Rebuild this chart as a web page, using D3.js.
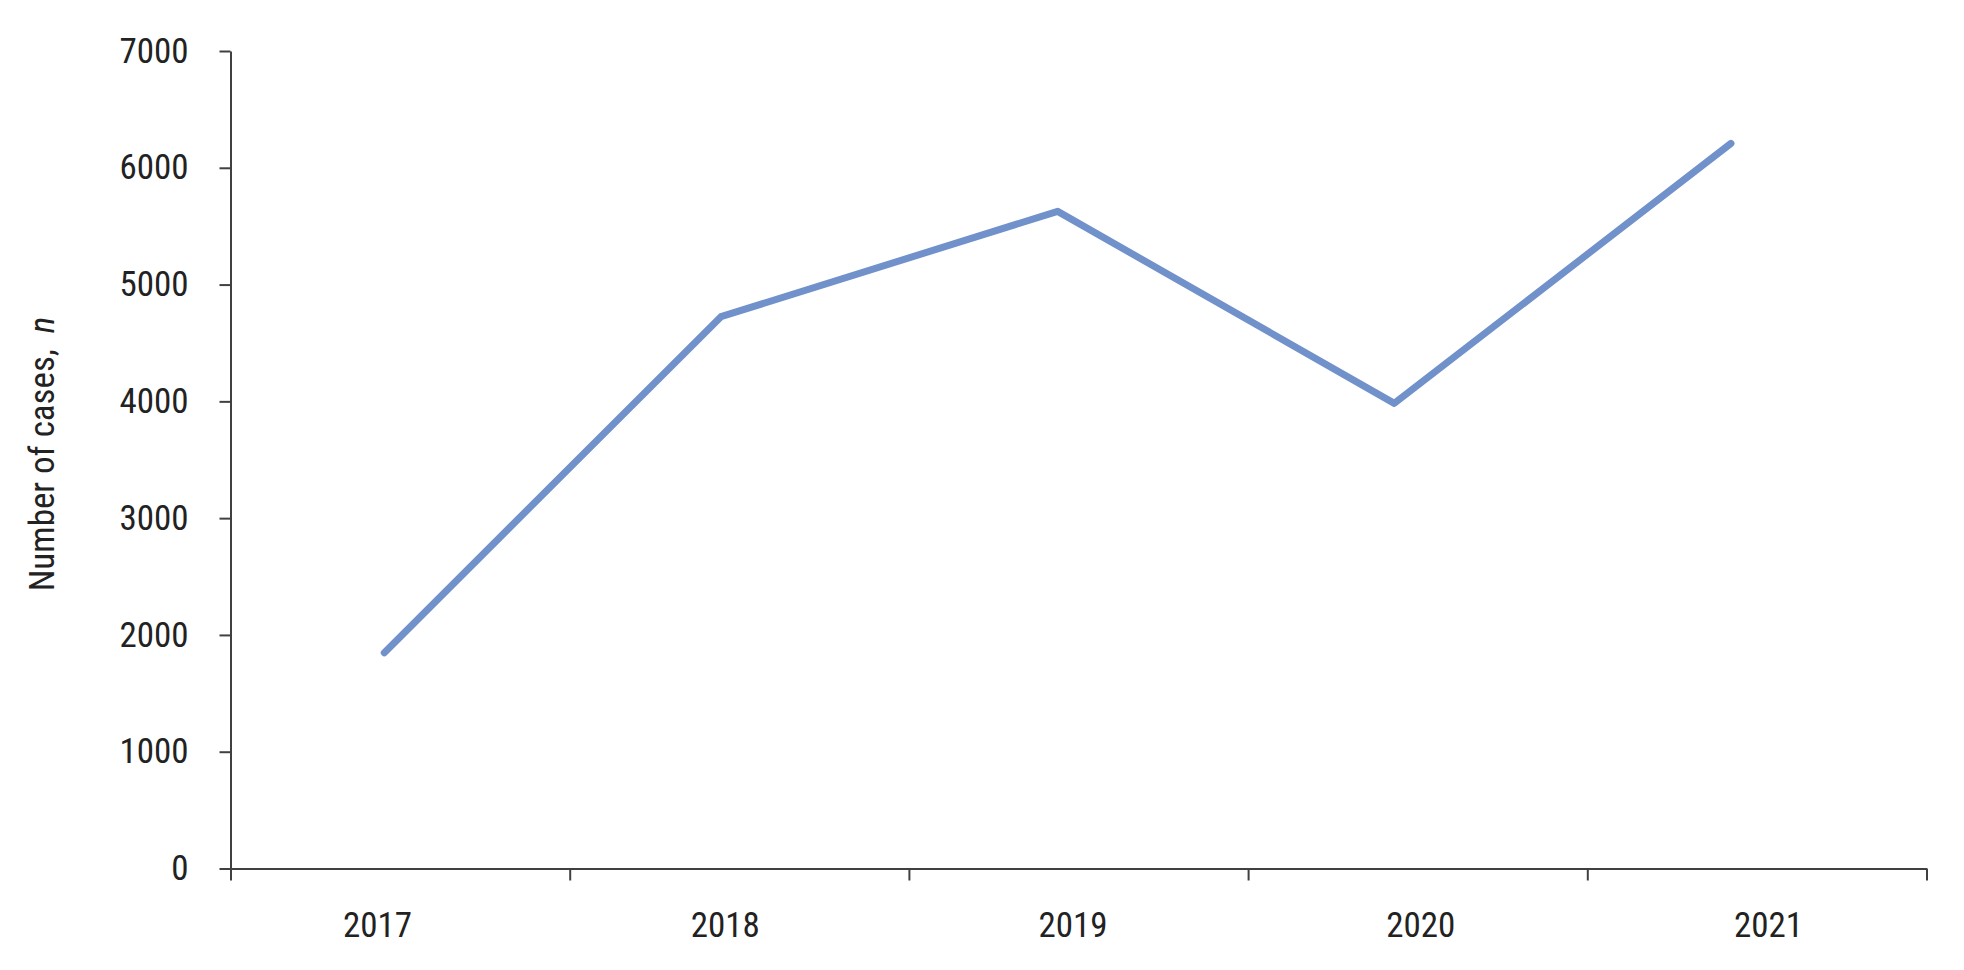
<!DOCTYPE html>
<html>
<head>
<meta charset="utf-8">
<script src="https://cdn.jsdelivr.net/npm/d3@7"></script>
<style>
  body { margin: 0; background: #fff; }
  text { font-family: "Liberation Sans Narrow", "Roboto Condensed", "DejaVu Sans Condensed", sans-serif; fill: #222; }
</style>
</head>
<body>
<script>
var years = ["2017", "2018", "2019", "2020", "2021"];
var cases = [1848, 4725, 5627, 3983, 6209];
var yTicks = [0, 1000, 2000, 3000, 4000, 5000, 6000, 7000];

var width = 1964, height = 970;
var plotLeft = 230.5, plotRight = 1926.5, plotTop = 51, plotBottom = 868.5;

var svg = d3.select("body").append("svg")
    .attr("width", width)
    .attr("height", height);

var y = d3.scaleLinear().domain([0, 7000]).range([plotBottom, plotTop]);

// tick marks sit on the category boundaries
var xb = d3.scaleLinear().domain([0, years.length]).range([plotLeft, plotRight]);
// the line's points and the labels are not quite centred in the reference
var xp = d3.scalePoint().domain(years).range([384.3, 1731]);
var xl = d3.scalePoint().domain(years).range([377.5, 1768.5]);

var yAxis = svg.append("g")
    .attr("transform", "translate(" + plotLeft + ",0)")
    .call(d3.axisLeft(y).tickValues(yTicks).tickSize(11).tickPadding(31).tickSizeOuter(0).tickFormat(d3.format("d")));

var xAxis = svg.append("g")
    .attr("transform", "translate(0," + plotBottom + ")")
    .call(d3.axisBottom(xb).tickValues(d3.range(years.length + 1)).tickSize(12).tickFormat("").tickSizeOuter(0));

svg.selectAll(".domain, .tick line")
    .attr("stroke", "#404040")
    .attr("stroke-width", 2);

yAxis.selectAll("text")
    .attr("font-size", 35)
    .attr("fill", "#222");

svg.append("g").selectAll("text")
    .data(years)
    .enter().append("text")
    .attr("x", function(d) { return xl(d); })
    .attr("y", 937)
    .attr("text-anchor", "middle")
    .attr("font-size", 35)
    .text(function(d) { return d; });

var line = d3.line()
    .x(function(d, i) { return xp(years[i]); })
    .y(function(d) { return y(d); });

svg.append("path")
    .datum(cases)
    .attr("d", line)
    .attr("fill", "none")
    .attr("stroke", "#7191ca")
    .attr("stroke-width", 7)
    .attr("stroke-linecap", "round")
    .attr("stroke-linejoin", "round");

var title = svg.append("text")
    .attr("transform", "translate(54,454) rotate(-90)")
    .attr("text-anchor", "middle")
    .attr("font-size", 35);
title.append("tspan").text("Number of cases,\u00a0\u00a0");
title.append("tspan").attr("font-style", "italic").text("n");
</script>
</body>
</html>
